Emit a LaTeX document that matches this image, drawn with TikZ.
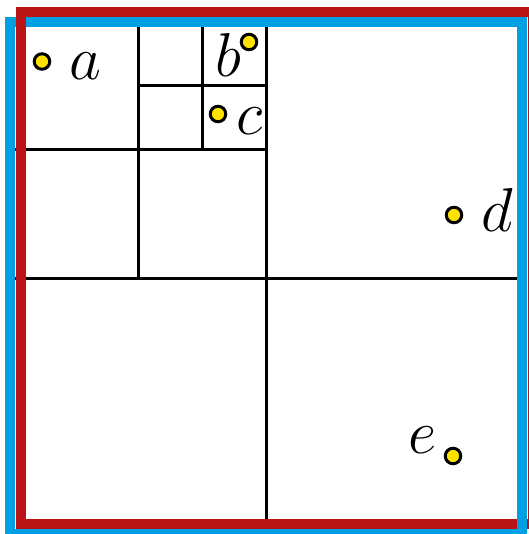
\RequirePackage{fix-cm}
\documentclass[tikz,border=0pt]{standalone}
\definecolor{qblue}{RGB}{0,160,226}
\definecolor{qred}{RGB}{185,21,23}
\definecolor{qyellow}{RGB}{255,226,0}
\begin{document}
\begin{tikzpicture}[x=1pt,y=-1pt,
  gridline/.style={line width=3pt,black},
  frame/.style={line width=10pt},
  pt/.style={circle,draw=black,fill=qyellow,line width=3pt,minimum size=15.5pt,inner sep=0pt},
  lbl/.style={anchor=base,inner sep=0pt,font=\fontsize{62}{70}\selectfont}]
\useasboundingbox (0,0) rectangle (528,534);
% quadtree grid
\draw[gridline] (266,22) -- (266,534);
\draw[gridline] (10,278) -- (522,278);
\draw[gridline] (138,22) -- (138,278);
\draw[gridline] (10,150) -- (266,150);
\draw[gridline] (202,22) -- (202,150);
\draw[gridline] (138,86) -- (266,86);
% frames
\draw[frame,qblue] (10,22) rectangle (522,534);
\draw[frame,qred] (20.5,12) rectangle (533,523.5);
\draw[frame,qblue] (522,505) -- (522,540);
% points
\node[pt] (pa) at (42,61.5) {};
\node[pt] (pb) at (249,42) {};
\node[pt] (pc) at (218,114) {};
\node[pt] (pd) at (454,215) {};
\node[pt] (pe) at (453,456) {};
% labels
\node[lbl] (la) at (85,80) {$a$};
\node[lbl] (lb) at (228,77) {$b$};
\node[lbl] (lc) at (250,135) {$c$};
\node[lbl] (ld) at (497,232) {$d$};
\node[lbl] (le) at (423,453) {$e$};
\end{tikzpicture}
\end{document}
